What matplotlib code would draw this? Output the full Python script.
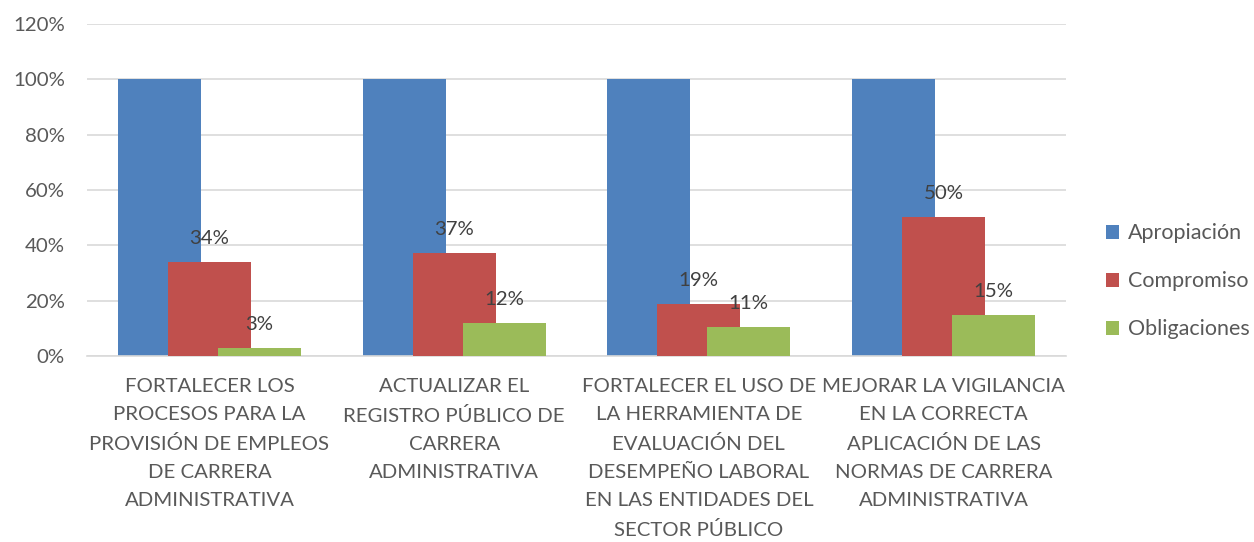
import matplotlib
matplotlib.use("agg")
import matplotlib.pyplot as plt
import numpy as np

# data
categorias = ["FORTALECER LOS\nPROCESOS PARA LA\nPROVISIÓN DE EMPLEOS\nDE CARRERA\nADMINISTRATIVA",
              "ACTUALIZAR EL\nREGISTRO PÚBLICO DE\nCARRERA\nADMINISTRATIVA",
              "FORTALECER EL USO DE\nLA HERRAMIENTA DE\nEVALUACIÓN DEL\nDESEMPEÑO LABORAL\nEN LAS ENTIDADES DEL\nSECTOR PÚBLICO",
              "MEJORAR LA VIGILANCIA\nEN LA CORRECTA\nAPLICACIÓN DE LAS\nNORMAS DE CARRERA\nADMINISTRATIVA"]
series = ["Apropiación", "Compromiso", "Obligaciones"]
apropiacion = [1.00, 1.00, 1.00, 1.00]
compromiso = [0.341, 0.372, 0.187, 0.502]
obligaciones = [0.028, 0.119, 0.106, 0.147]
yticks = [0, 0.2, 0.4, 0.6, 0.8, 1.0, 1.2]

colores = ["#4F81BD", "#C0504D", "#9BBB59"]
gris = "#595959"
fs = 14.7
plt.rcParams['font.family'] = ['Lato', 'DejaVu Sans']

fig = plt.figure(figsize=(12.54, 5.42), dpi=100)
ax = fig.add_axes([0.0694, 0.343, 0.7806, 0.6127])

x = np.arange(len(categorias))
w = 0.339
off = 0.204
valores = [apropiacion, compromiso, obligaciones]
for i, (nombre, vals) in enumerate(zip(series, valores)):
    bars = ax.bar(x + (i - 1) * off, vals, w, color=colores[i], label=nombre, zorder=2 + i)
    if i > 0:
        for b, v in zip(bars, vals):
            ax.text(b.get_x() + b.get_width() / 2, v + 0.055, f"{round(v*100):.0f}%",
                    ha='center', va='bottom', fontsize=fs, color='#404040', zorder=10)

ax.set_xlim(-0.5, 3.5)
ax.set_ylim(0, 1.2)
ax.set_yticks(yticks)
ax.set_yticklabels([f"{int(round(t*100))}%" for t in yticks])
ax.set_xticks(x)
ax.set_xticklabels(categorias, linespacing=1.78)
ax.tick_params(axis='both', length=0, labelsize=fs, labelcolor=gris)
ax.tick_params(axis='y', pad=16)
ax.tick_params(axis='x', pad=16)
ax.grid(axis='y', color='#D9D9D9', lw=1.2, zorder=0)
for s in ['top', 'right', 'left']:
    ax.spines[s].set_visible(False)
ax.spines['bottom'].set_color('#D9D9D9')
ax.spines['bottom'].set_linewidth(1.2)

leg = ax.legend(loc='center left', bbox_to_anchor=(1.0, 0.225), frameon=False,
                fontsize=15.5, handlelength=0.6, handleheight=0.6, handletextpad=0.45,
                labelspacing=1.3, borderaxespad=1.45)
for t in leg.get_texts():
    t.set_color(gris)

fig.savefig("out.png", dpi=100)
